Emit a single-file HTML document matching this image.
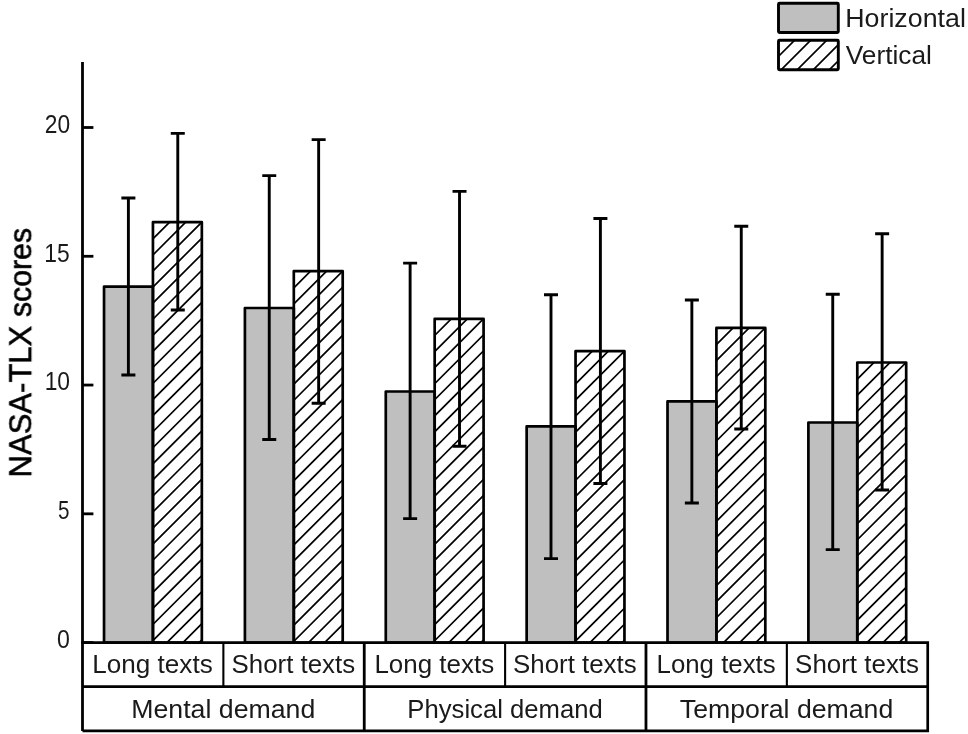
<!DOCTYPE html>
<html><head><meta charset="utf-8"><title>NASA-TLX chart</title>
<style>html,body{margin:0;padding:0;background:#fff;width:968px;height:734px;overflow:hidden}svg{display:block}text{font-family:"Liberation Sans",sans-serif}</style>
</head><body>
<svg width="968" height="734" viewBox="0 0 968 734">
<defs><clipPath id="c0"><rect x="152.94" y="222.20" width="48.90" height="420.40"/></clipPath><clipPath id="c1"><rect x="293.81" y="271.20" width="48.90" height="371.40"/></clipPath><clipPath id="c2"><rect x="434.68" y="318.80" width="48.90" height="323.80"/></clipPath><clipPath id="c3"><rect x="575.55" y="351.20" width="48.90" height="291.40"/></clipPath><clipPath id="c4"><rect x="716.41" y="327.90" width="48.90" height="314.70"/></clipPath><clipPath id="c5"><rect x="857.29" y="362.50" width="48.90" height="280.10"/></clipPath><clipPath id="c6"><rect x="778.50" y="40.30" width="59.80" height="29.50"/></clipPath></defs>
<rect width="968" height="734" fill="#fff"/>
<rect x="104.03" y="286.60" width="48.90" height="356.00" fill="#bfbfbf"/>
<g clip-path="url(#c0)"><path d="M132.94 210.67L221.84 121.77M132.94 226.74L221.84 137.84M132.94 242.80L221.84 153.90M132.94 258.87L221.84 169.97M132.94 274.93L221.84 186.03M132.94 291.00L221.84 202.09M132.94 307.06L221.84 218.16M132.94 323.12L221.84 234.22M132.94 339.19L221.84 250.29M132.94 355.26L221.84 266.36M132.94 371.32L221.84 282.42M132.94 387.39L221.84 298.49M132.94 403.45L221.84 314.55M132.94 419.52L221.84 330.62M132.94 435.58L221.84 346.68M132.94 451.65L221.84 362.75M132.94 467.71L221.84 378.81M132.94 483.78L221.84 394.88M132.94 499.84L221.84 410.94M132.94 515.90L221.84 427.00M132.94 531.97L221.84 443.07M132.94 548.04L221.84 459.13M132.94 564.10L221.84 475.20M132.94 580.16L221.84 491.26M132.94 596.23L221.84 507.33M132.94 612.30L221.84 523.39M132.94 628.36L221.84 539.46M132.94 644.43L221.84 555.53M132.94 660.49L221.84 571.59M132.94 676.56L221.84 587.65M132.94 692.62L221.84 603.72M132.94 708.69L221.84 619.79M132.94 724.75L221.84 635.85M132.94 740.82L221.84 651.91" stroke="#000" stroke-width="1.7" fill="none"/></g>
<rect x="104.03" y="286.60" width="48.90" height="356.00" fill="none" stroke="#000" stroke-width="2.7" stroke-linejoin="round"/>
<rect x="152.94" y="222.20" width="48.90" height="420.40" fill="none" stroke="#000" stroke-width="2.7" stroke-linejoin="round"/>
<path d="M128.39 198.00V375.00M121.39 198.00H135.39M121.39 375.00H135.39" stroke="#000" stroke-width="2.9" fill="none"/>
<path d="M177.78 133.40V310.00M170.78 133.40H184.78M170.78 310.00H184.78" stroke="#000" stroke-width="2.9" fill="none"/>
<rect x="244.91" y="308.00" width="48.90" height="334.60" fill="#bfbfbf"/>
<g clip-path="url(#c1)"><path d="M273.81 259.67L362.70 170.77M273.81 275.73L362.70 186.83M273.81 291.80L362.70 202.90M273.81 307.87L362.70 218.97M273.81 323.93L362.70 235.03M273.81 340.00L362.70 251.10M273.81 356.06L362.70 267.16M273.81 372.13L362.70 283.23M273.81 388.19L362.70 299.29M273.81 404.26L362.70 315.36M273.81 420.32L362.70 331.42M273.81 436.39L362.70 347.49M273.81 452.45L362.70 363.55M273.81 468.52L362.70 379.62M273.81 484.58L362.70 395.68M273.81 500.65L362.70 411.75M273.81 516.71L362.70 427.81M273.81 532.78L362.70 443.88M273.81 548.84L362.70 459.94M273.81 564.90L362.70 476.01M273.81 580.97L362.70 492.07M273.81 597.04L362.70 508.13M273.81 613.10L362.70 524.20M273.81 629.16L362.70 540.27M273.81 645.23L362.70 556.33M273.81 661.30L362.70 572.39M273.81 677.36L362.70 588.46M273.81 693.42L362.70 604.53M273.81 709.49L362.70 620.59M273.81 725.56L362.70 636.66M273.81 741.62L362.70 652.72" stroke="#000" stroke-width="1.7" fill="none"/></g>
<rect x="244.91" y="308.00" width="48.90" height="334.60" fill="none" stroke="#000" stroke-width="2.7" stroke-linejoin="round"/>
<rect x="293.81" y="271.20" width="48.90" height="371.40" fill="none" stroke="#000" stroke-width="2.7" stroke-linejoin="round"/>
<path d="M269.25 175.60V439.50M262.25 175.60H276.25M262.25 439.50H276.25" stroke="#000" stroke-width="2.9" fill="none"/>
<path d="M318.65 139.60V403.30M311.65 139.60H325.65M311.65 403.30H325.65" stroke="#000" stroke-width="2.9" fill="none"/>
<rect x="385.78" y="391.50" width="48.90" height="251.10" fill="#bfbfbf"/>
<g clip-path="url(#c2)"><path d="M414.68 307.27L503.57 218.37M414.68 323.33L503.57 234.44M414.68 339.40L503.57 250.50M414.68 355.47L503.57 266.57M414.68 371.53L503.57 282.63M414.68 387.60L503.57 298.70M414.68 403.66L503.57 314.76M414.68 419.73L503.57 330.83M414.68 435.79L503.57 346.89M414.68 451.86L503.57 362.96M414.68 467.92L503.57 379.02M414.68 483.99L503.57 395.09M414.68 500.05L503.57 411.15M414.68 516.12L503.57 427.22M414.68 532.18L503.57 443.28M414.68 548.25L503.57 459.35M414.68 564.31L503.57 475.41M414.68 580.38L503.57 491.48M414.68 596.44L503.57 507.54M414.68 612.51L503.57 523.61M414.68 628.57L503.57 539.67M414.68 644.63L503.57 555.73M414.68 660.70L503.57 571.80M414.68 676.77L503.57 587.87M414.68 692.83L503.57 603.93M414.68 708.90L503.57 620.00M414.68 724.96L503.57 636.06M414.68 741.03L503.57 652.12" stroke="#000" stroke-width="1.7" fill="none"/></g>
<rect x="385.78" y="391.50" width="48.90" height="251.10" fill="none" stroke="#000" stroke-width="2.7" stroke-linejoin="round"/>
<rect x="434.68" y="318.80" width="48.90" height="323.80" fill="none" stroke="#000" stroke-width="2.7" stroke-linejoin="round"/>
<path d="M410.12 263.10V518.60M403.12 263.10H417.12M403.12 518.60H417.12" stroke="#000" stroke-width="2.9" fill="none"/>
<path d="M459.52 191.40V446.20M452.52 191.40H466.52M452.52 446.20H466.52" stroke="#000" stroke-width="2.9" fill="none"/>
<rect x="526.65" y="426.40" width="48.90" height="216.20" fill="#bfbfbf"/>
<g clip-path="url(#c3)"><path d="M555.55 339.67L644.45 250.77M555.55 355.74L644.45 266.84M555.55 371.80L644.45 282.90M555.55 387.87L644.45 298.97M555.55 403.93L644.45 315.03M555.55 420.00L644.45 331.10M555.55 436.06L644.45 347.16M555.55 452.13L644.45 363.23M555.55 468.19L644.45 379.29M555.55 484.26L644.45 395.36M555.55 500.32L644.45 411.42M555.55 516.38L644.45 427.49M555.55 532.45L644.45 443.55M555.55 548.52L644.45 459.62M555.55 564.58L644.45 475.68M555.55 580.64L644.45 491.75M555.55 596.71L644.45 507.81M555.55 612.78L644.45 523.88M555.55 628.84L644.45 539.94M555.55 644.91L644.45 556.01M555.55 660.97L644.45 572.07M555.55 677.04L644.45 588.14M555.55 693.10L644.45 604.20M555.55 709.16L644.45 620.26M555.55 725.23L644.45 636.33M555.55 741.30L644.45 652.40" stroke="#000" stroke-width="1.7" fill="none"/></g>
<rect x="526.65" y="426.40" width="48.90" height="216.20" fill="none" stroke="#000" stroke-width="2.7" stroke-linejoin="round"/>
<rect x="575.55" y="351.20" width="48.90" height="291.40" fill="none" stroke="#000" stroke-width="2.7" stroke-linejoin="round"/>
<path d="M551.00 294.70V558.60M544.00 294.70H558.00M544.00 558.60H558.00" stroke="#000" stroke-width="2.9" fill="none"/>
<path d="M600.40 218.50V483.50M593.40 218.50H607.40M593.40 483.50H607.40" stroke="#000" stroke-width="2.9" fill="none"/>
<rect x="667.51" y="401.40" width="48.90" height="241.20" fill="#bfbfbf"/>
<g clip-path="url(#c4)"><path d="M696.41 316.37L785.31 227.47M696.41 332.43L785.31 243.53M696.41 348.50L785.31 259.60M696.41 364.57L785.31 275.67M696.41 380.63L785.31 291.73M696.41 396.69L785.31 307.79M696.41 412.76L785.31 323.86M696.41 428.83L785.31 339.93M696.41 444.89L785.31 355.99M696.41 460.95L785.31 372.05M696.41 477.02L785.31 388.12M696.41 493.09L785.31 404.19M696.41 509.15L785.31 420.25M696.41 525.21L785.31 436.31M696.41 541.28L785.31 452.38M696.41 557.35L785.31 468.45M696.41 573.41L785.31 484.51M696.41 589.47L785.31 500.57M696.41 605.54L785.31 516.64M696.41 621.61L785.31 532.71M696.41 637.67L785.31 548.77M696.41 653.74L785.31 564.84M696.41 669.80L785.31 580.90M696.41 685.87L785.31 596.97M696.41 701.93L785.31 613.03M696.41 717.99L785.31 629.09M696.41 734.06L785.31 645.16" stroke="#000" stroke-width="1.7" fill="none"/></g>
<rect x="667.51" y="401.40" width="48.90" height="241.20" fill="none" stroke="#000" stroke-width="2.7" stroke-linejoin="round"/>
<rect x="716.41" y="327.90" width="48.90" height="314.70" fill="none" stroke="#000" stroke-width="2.7" stroke-linejoin="round"/>
<path d="M691.86 300.00V503.00M684.86 300.00H698.86M684.86 503.00H698.86" stroke="#000" stroke-width="2.9" fill="none"/>
<path d="M741.26 226.20V429.00M734.26 226.20H748.26M734.26 429.00H748.26" stroke="#000" stroke-width="2.9" fill="none"/>
<rect x="808.39" y="422.50" width="48.90" height="220.10" fill="#bfbfbf"/>
<g clip-path="url(#c5)"><path d="M837.29 350.97L926.19 262.07M837.29 367.03L926.19 278.13M837.29 383.10L926.19 294.20M837.29 399.16L926.19 310.26M837.29 415.23L926.19 326.33M837.29 431.29L926.19 342.39M837.29 447.36L926.19 358.46M837.29 463.42L926.19 374.52M837.29 479.49L926.19 390.59M837.29 495.55L926.19 406.65M837.29 511.62L926.19 422.72M837.29 527.68L926.19 438.78M837.29 543.75L926.19 454.85M837.29 559.81L926.19 470.91M837.29 575.88L926.19 486.98M837.29 591.94L926.19 503.04M837.29 608.01L926.19 519.11M837.29 624.08L926.19 535.18M837.29 640.14L926.19 551.24M837.29 656.20L926.19 567.30M837.29 672.27L926.19 583.37M837.29 688.33L926.19 599.43M837.29 704.40L926.19 615.50M837.29 720.46L926.19 631.56M837.29 736.53L926.19 647.63" stroke="#000" stroke-width="1.7" fill="none"/></g>
<rect x="808.39" y="422.50" width="48.90" height="220.10" fill="none" stroke="#000" stroke-width="2.7" stroke-linejoin="round"/>
<rect x="857.29" y="362.50" width="48.90" height="280.10" fill="none" stroke="#000" stroke-width="2.7" stroke-linejoin="round"/>
<path d="M832.74 294.30V549.60M825.74 294.30H839.74M825.74 549.60H839.74" stroke="#000" stroke-width="2.9" fill="none"/>
<path d="M882.14 233.70V490.00M875.14 233.70H889.14M875.14 490.00H889.14" stroke="#000" stroke-width="2.9" fill="none"/>
<path d="M82.5 62V730.9" stroke="#000" stroke-width="2.8" fill="none"/>
<path d="M82.5 642.60H93.4" stroke="#000" stroke-width="2.8" fill="none"/>
<path d="M82.5 513.83H93.4" stroke="#000" stroke-width="2.8" fill="none"/>
<path d="M82.5 385.05H93.4" stroke="#000" stroke-width="2.8" fill="none"/>
<path d="M82.5 256.28H93.4" stroke="#000" stroke-width="2.8" fill="none"/>
<path d="M82.5 127.50H93.4" stroke="#000" stroke-width="2.8" fill="none"/>
<path d="M81.1 642.6H927.72V730.9H82.5M82.5 686.6H927.72" stroke="#000" stroke-width="2.7" fill="none"/>
<path d="M364.24 642.6V730.9" stroke="#000" stroke-width="2.8" fill="none"/>
<path d="M645.98 642.6V730.9" stroke="#000" stroke-width="2.8" fill="none"/>
<path d="M223.37 642.6V686.6" stroke="#000" stroke-width="2.1" fill="none"/>
<path d="M505.11 642.6V686.6" stroke="#000" stroke-width="2.1" fill="none"/>
<path d="M786.85 642.6V686.6" stroke="#000" stroke-width="2.1" fill="none"/>
<rect x="778.5" y="3.3" width="59.8" height="29.2" rx="1" fill="#bfbfbf" stroke="#000" stroke-width="2.9"/>
<g clip-path="url(#c6)"><path d="M758.50 44.23L858.30 -55.57M758.50 60.30L858.30 -39.50M758.50 76.37L858.30 -23.43M758.50 92.43L858.30 -7.37M758.50 108.50L858.30 8.70M758.50 124.56L858.30 24.76M758.50 140.62L858.30 40.83M758.50 156.69L858.30 56.89M758.50 172.75L858.30 72.96" stroke="#000" stroke-width="1.7" fill="none"/></g>
<rect x="778.5" y="40.3" width="59.8" height="29.5" rx="1" fill="none" stroke="#000" stroke-width="2.9"/>
<g font-family='"Liberation Sans", sans-serif' fill="#1a1a1a" opacity="0.999">
<text transform="translate(44.76,132.90) scale(0.9124,1)" font-size="24.93">20</text>
<text transform="translate(44.37,262.00) scale(0.9158,1)" font-size="24.93">15</text>
<text transform="translate(44.67,390.00) scale(0.9158,1)" font-size="24.93">10</text>
<text transform="translate(58.07,518.90) scale(0.8279,1)" font-size="24.93">5</text>
<text transform="translate(57.08,647.90) scale(0.9277,1)" font-size="24.93">0</text>
<text transform="translate(92.31,673.40) scale(0.9783,1)" font-size="26.67">Long texts</text>
<text transform="translate(231.51,673.40) scale(0.9699,1)" font-size="26.67">Short texts</text>
<text transform="translate(374.42,673.40) scale(0.9733,1)" font-size="26.67">Long texts</text>
<text transform="translate(513.01,673.40) scale(0.9699,1)" font-size="26.67">Short texts</text>
<text transform="translate(656.53,673.40) scale(0.9683,1)" font-size="26.67">Long texts</text>
<text transform="translate(795.10,673.40) scale(0.9723,1)" font-size="26.67">Short texts</text>
<text transform="translate(131.16,717.60) scale(1.0022,1)" font-size="26.67">Mental demand</text>
<text transform="translate(407.35,717.60) scale(0.9629,1)" font-size="26.67">Physical demand</text>
<text transform="translate(679.87,717.60) scale(1.0000,1)" font-size="26.67">Temporal demand</text>
<text transform="translate(845.26,26.50) scale(1.0156,1)" font-size="26.38">Horizontal</text>
<text transform="translate(845.74,63.90) scale(0.9855,1)" font-size="26.67">Vertical</text>
<g transform="translate(31.25,475) rotate(-90)" fill="#000" stroke="#000" stroke-width="0.6"><text transform="translate(-2.48,0.00) scale(0.9649,1)" font-size="32.17">NASA-TLX</text><text transform="translate(157.89,0.00) scale(0.9906,1)" font-size="30.60">scores</text></g>
</g>
</svg>
</body></html>
